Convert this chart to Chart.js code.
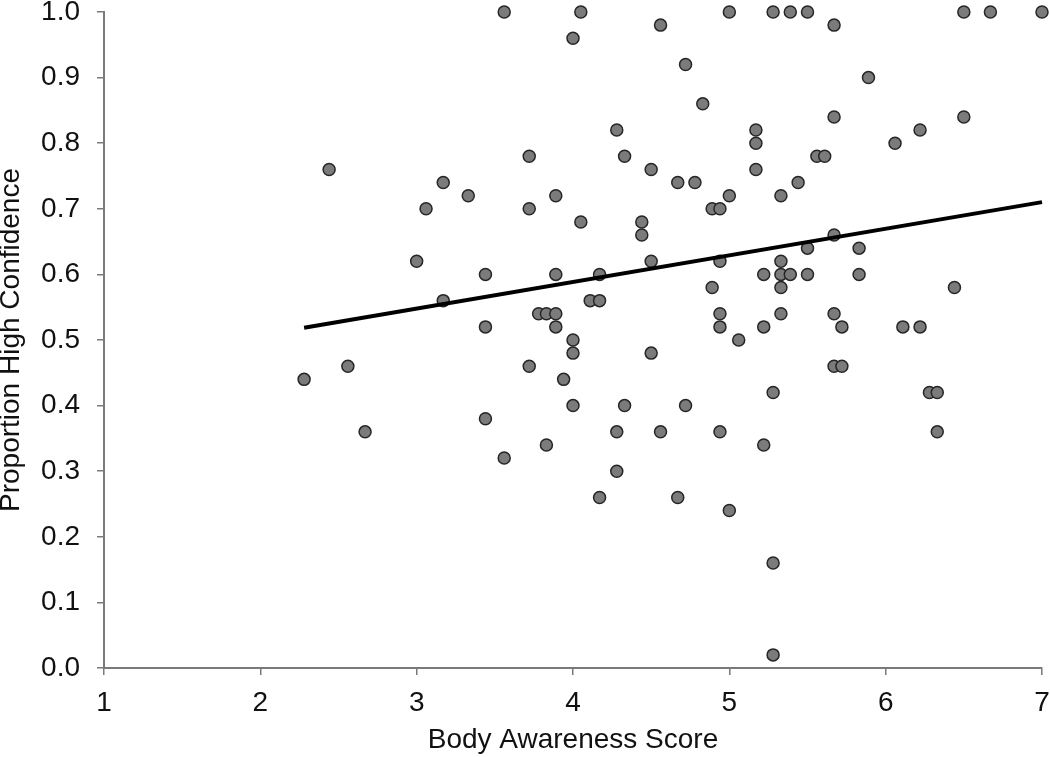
<!DOCTYPE html>
<html>
<head>
<meta charset="utf-8">
<script src="https://cdn.jsdelivr.net/npm/chart.js@4.4.1/dist/chart.umd.min.js"></script>
<style>
	html, body { margin: 0; padding: 0; background: #fff; }
</style>
</head>
<body>
<canvas id="scatterChart" width="1050" height="757"></canvas>
<script>
// body awareness score (x) and proportion of high confidence responses (y), one entry per participant
const scoreX = [
	2.28, 2.44, 2.56, 2.67, 3.00, 3.06, 3.17, 3.17, 3.33, 3.44,
	3.44, 3.44, 3.56, 3.56, 3.72, 3.72, 3.72, 3.78, 3.83, 3.83,
	3.89, 3.89, 3.89, 3.89, 3.94, 4.00, 4.00, 4.00, 4.00, 4.05,
	4.05, 4.11, 4.17, 4.17, 4.17, 4.28, 4.28, 4.28, 4.33, 4.33,
	4.44, 4.44, 4.50, 4.50, 4.50, 4.56, 4.56, 4.67, 4.67, 4.72,
	4.72, 4.78, 4.83, 4.89, 4.89, 4.94, 4.94, 4.94, 4.94, 4.94,
	5.00, 5.00, 5.00, 5.06, 5.17, 5.17, 5.17, 5.22, 5.22, 5.22,
	5.28, 5.28, 5.28, 5.28, 5.33, 5.33, 5.33, 5.33, 5.33, 5.39,
	5.39, 5.44, 5.50, 5.50, 5.50, 5.56, 5.61, 5.67, 5.67, 5.67,
	5.67, 5.67, 5.72, 5.72, 5.83, 5.83, 5.89, 6.06, 6.11, 6.22,
	6.22, 6.28, 6.33, 6.33, 6.44, 6.50, 6.50, 6.67, 7.00
];
const propY = [
	0.44, 0.76, 0.46, 0.36, 0.62, 0.70, 0.74, 0.56, 0.72, 0.60,
	0.52, 0.38, 1.00, 0.32, 0.78, 0.70, 0.46, 0.54, 0.54, 0.34,
	0.72, 0.60, 0.54, 0.52, 0.44, 0.96, 0.50, 0.48, 0.40, 1.00,
	0.68, 0.56, 0.60, 0.56, 0.26, 0.82, 0.36, 0.30, 0.78, 0.40,
	0.68, 0.66, 0.76, 0.62, 0.48, 0.98, 0.36, 0.74, 0.26, 0.92,
	0.40, 0.74, 0.86, 0.70, 0.58, 0.70, 0.62, 0.54, 0.52, 0.36,
	1.00, 0.72, 0.24, 0.50, 0.82, 0.80, 0.76, 0.60, 0.52, 0.34,
	1.00, 0.42, 0.16, 0.02, 0.72, 0.62, 0.60, 0.58, 0.54, 1.00,
	0.60, 0.74, 1.00, 0.64, 0.60, 0.78, 0.78, 0.98, 0.84, 0.66,
	0.54, 0.46, 0.52, 0.46, 0.64, 0.60, 0.90, 0.80, 0.52, 0.82,
	0.52, 0.42, 0.42, 0.36, 0.58, 1.00, 0.84, 1.00, 1.00
];
// regression line
const fitIntercept = 0.426;
const fitSlope = 0.0406;

const xTicks = [1, 2, 3, 4, 5, 6, 7];
const yTicks = [0, 0.1, 0.2, 0.3, 0.4, 0.5, 0.6, 0.7, 0.8, 0.9, 1.0];

window.onload = function () {
	const ctx = document.getElementById('scatterChart');
	const font = { family: '"Liberation Sans", Arial, sans-serif', size: 28 };
	const axisGrey = '#7a7a7a';

	const points = scoreX.map(function (x, i) { return { x: x, y: propY[i] }; });
	const xLo = Math.min.apply(null, scoreX);
	const xHi = Math.max.apply(null, scoreX);
	const fitLine = [
		{ x: xLo, y: fitIntercept + fitSlope * xLo },
		{ x: xHi, y: fitIntercept + fitSlope * xHi }
	];

	const scatter = new Chart(ctx, {
		type: 'scatter',
		data: {
			datasets: [
				{
					label: 'Participants',
					data: points,
					backgroundColor: '#7b7b7b',
					borderColor: '#262626',
					borderWidth: 1.5,
					pointRadius: 6,
					order: 2
				},
				{
					label: 'Fit',
					type: 'line',
					data: fitLine,
					borderColor: '#000',
					borderWidth: 4,
					pointRadius: 0,
					fill: false,
					order: 1
				}
			]
		},
		options: {
			responsive: false,
			animation: false,
			devicePixelRatio: 1,
			clip: false,
			layout: { padding: { top: 12, right: 8, left: 0, bottom: 0 } },
			plugins: {
				legend: { display: false },
				tooltip: { enabled: false }
			},
			scales: {
				x: {
					type: 'linear',
					min: 1,
					max: 7,
					afterBuildTicks: function (scale) {
						scale.ticks = xTicks.map(function (v) { return { value: v }; });
					},
					afterFit: function (scale) {
						scale.height = 89;
						scale.paddingLeft = 0;
						scale.paddingRight = 0;
					},
					grid: { display: true, drawOnChartArea: false, drawTicks: true, tickLength: 7, color: axisGrey, lineWidth: 1.5 },
					border: { display: true, color: axisGrey, width: 2 },
					ticks: { color: '#111', font: font, padding: 11, maxRotation: 0 },
					title: { display: true, text: 'Body Awareness Score', color: '#111', font: font, padding: { top: 0, bottom: 0 } }
				},
				y: {
					type: 'linear',
					min: 0,
					max: 1,
					afterBuildTicks: function (scale) {
						scale.ticks = yTicks.map(function (v) { return { value: v }; });
					},
					afterFit: function (scale) {
						scale.width = 104;
						scale.paddingTop = 0;
						scale.paddingBottom = 0;
					},
					grid: { display: true, drawOnChartArea: false, drawTicks: true, tickLength: 7, color: axisGrey, lineWidth: 1.5 },
					border: { display: true, color: axisGrey, width: 2 },
					ticks: {
						color: '#111',
						font: font,
						padding: 17,
						callback: function (v) { return Number(v).toFixed(1); }
					},
					title: { display: true, text: 'Proportion High Confidence', color: '#111', font: font, padding: { top: -6, bottom: 0 } }
				}
			}
		}
	});
};
</script>
</body>
</html>
